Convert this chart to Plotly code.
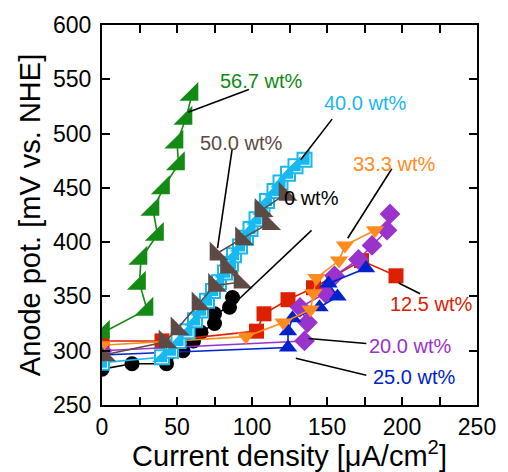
import plotly.graph_objects as go

# ---- data (current density µA/cm2, anode potential mV vs NHE) ----
x_0 = [0, 20, 43, 54, 61, 66, 75, 75, 85, 87]
y_0 = [283, 288, 288, 300, 309, 317, 325, 334, 340, 349]

x_125 = [0, 40, 103, 108, 124, 141, 173, 196]
y_125 = [309, 309, 318, 334, 347, 358, 383, 369]

x_200 = [0, 135, 137, 132, 149, 155, 171, 180, 190, 192]
y_200 = [300, 309, 326, 340, 353, 369, 384, 397, 411, 426]

x_250 = [0, 124, 124, 127, 145, 157, 151, 176]
y_250 = [296, 303, 318, 330, 340, 350, 362, 376]

x_333 = [0, 96, 121, 139, 141, 143, 158, 162, 182]
y_333 = [305, 313, 326, 338, 353, 367, 383, 397, 411]

x_400 = [0, 40, 46, 51, 57, 62, 66, 70, 74, 78, 82, 86, 88, 92, 96, 99, 103, 107, 110, 115, 119, 124, 129, 135]
y_400 = [289, 294, 300, 309, 318, 328, 337, 346, 355, 363, 372, 380, 388, 396, 404, 412, 421, 430, 438, 447, 455, 463, 470, 476]

x_500 = [1, 42, 50, 64, 75, 92, 83, 76, 93, 111, 106, 122]
y_500 = [296, 308, 320, 343, 360, 363, 377, 389, 403, 417, 429, 444]

x_567 = [1, 30, 25, 26, 37, 34, 41, 51, 50, 56, 60]
y_567 = [317, 338, 362, 385, 407, 430, 450, 472, 492, 514, 536]

labels = ["0 wt%", "12.5 wt%", "20.0 wt%", "25.0 wt%", "33.3 wt%", "40.0 wt%", "50.0 wt%", "56.7 wt%"]
colors = ["#000000", "#dd2000", "#9933cc", "#0022cc", "#ff8a1e", "#18b8f0", "#5e4a44", "#138a13"]

FONT = "Liberation Sans, Arial, sans-serif"

fig = go.Figure()

def add(x, y, color, symbol, size, name):
    fig.add_trace(go.Scatter(x=x, y=y, mode="lines+markers", name=name,
                             line=dict(color=color, width=1.6),
                             marker=dict(symbol=symbol, size=size, color=color,
                                         line=dict(width=0))))

add(x_0, y_0, colors[0], "circle", 15, labels[0])
add(x_125, y_125, colors[1], "square", 15, labels[1])
add(x_200, y_200, colors[2], "diamond", 16, labels[2])
add(x_250, y_250, colors[3], "triangle-up", 16, labels[3])
add(x_333, y_333, colors[4], "triangle-down", 16, labels[4])
# 40.0 wt%: half-filled open squares
fig.add_trace(go.Scatter(x=x_400, y=y_400, mode="lines+markers", name=labels[5],
                         line=dict(color=colors[5], width=1.6),
                         marker=dict(symbol="square", size=14, color="white",
                                     line=dict(color=colors[5], width=2))))
fig.add_trace(go.Scatter(x=x_400, y=y_400, mode="markers", showlegend=False,
                         marker=dict(symbol="triangle-se", size=17, color=colors[5],
                                     line=dict(width=0))))
add(x_500, y_500, colors[6], "triangle-sw", 21, labels[6])
add(x_567, y_567, colors[7], "triangle-se", 21, labels[7])

# ---- labels with leader lines ----
ann = [
    # text, text x, text y, line start x,y, line end x,y, color
    ("56.7 wt%", 105.7, 548, 97.9, 540.7, 57.4, 519.7, colors[7]),
    ("50.0 wt%", 92.7, 491.3, 86.8, 485.8, 77, 394.4, colors[6]),
    ("40.0 wt%", 175, 527.9, 153.4, 513.3, 132.5, 475.8, colors[5]),
    ("0 wt%", 139.7, 441, 139.7, 410.9, 90.1, 346, colors[0]),
    ("33.3 wt%", 194.5, 472, 193.2, 467.6, 163.8, 403.6, colors[4]),
    ("12.5 wt%", 219.3, 343.2, 197.8, 362.4, 212.1, 352.4, colors[1]),
    ("20.0 wt%", 205.6, 304.8, 137.7, 311.2, 176.2, 306.7, colors[2]),
    ("25.0 wt%", 208.2, 275.6, 129.2, 293.0, 176.2, 277.4, colors[3]),
]
for t, tx, ty, x0, y0, x1, y1, c in ann:
    fig.add_shape(type="line", x0=x0, y0=y0, x1=x1, y1=y1, xref="x", yref="y",
                  line=dict(color="black", width=1.6))
    fig.add_annotation(x=tx, y=ty, text=t, showarrow=False, xref="x", yref="y",
                       font=dict(family=FONT, size=20, color=c))

axis_common = dict(showline=True, linecolor="black", linewidth=2, mirror="allticks",
                   ticks="inside", ticklen=8, tickwidth=1.5, tickcolor="black",
                   showgrid=False, zeroline=False,
                   tickfont=dict(family=FONT, size=23, color="black"))

fig.update_xaxes(range=[0, 250], dtick=50, tick0=0,
                 minor=dict(dtick=25, ticks="inside", ticklen=8, tickwidth=1.5, tickcolor="black"),
                 title=dict(text="Current density [μA/cm<sup>2</sup>]",
                            font=dict(family=FONT, size=29, color="black"), standoff=0),
                 **axis_common)
fig.update_yaxes(range=[250, 600], dtick=50, tick0=250, ticklabelstandoff=4,
                 title=dict(text="Anode pot. [mV vs. NHE]",
                            font=dict(family=FONT, size=29, color="black"), standoff=4),
                 **axis_common)

fig.update_layout(width=508, height=472, showlegend=False,
                  margin=dict(l=102, r=22, t=22, b=67),
                  plot_bgcolor="white", paper_bgcolor="white",
                  font=dict(family=FONT))

fig.write_html("out.html")
